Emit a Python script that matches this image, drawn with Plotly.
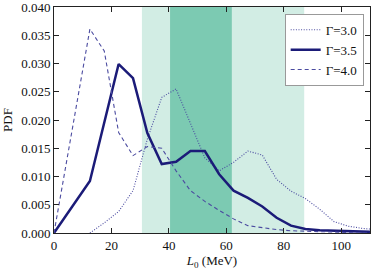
import plotly.graph_objects as go

# ---- data ----
L_g30 = [12.5, 17.5, 22.5, 27.5, 32.5, 37.5, 42.5, 47.5, 52.5, 57.5, 62.5, 67.5,
         72.5, 77.5, 82.5, 87.5, 92.5, 97.5, 102.5, 107.5, 110]
pdf_g30 = [0.0, 0.0018, 0.0038, 0.0075, 0.0166, 0.0240, 0.0255, 0.0195, 0.0133, 0.0110,
           0.0125, 0.0145, 0.0138, 0.0095, 0.0074, 0.0061, 0.0042, 0.0020, 0.0012, 0.0008, 0.0007]

L_g35 = [0, 12.5, 22.5, 27.5, 32.5, 37.5, 42.5, 47.5, 52.5, 57.5, 62.5, 67.5, 72.5,
         77.5, 82.5, 87.5, 92.5, 97.5, 102.5, 107.5, 110]
pdf_g35 = [0.0, 0.0092, 0.0299, 0.0274, 0.0177, 0.0122, 0.0126, 0.0145, 0.0145, 0.0104,
           0.0075, 0.0062, 0.0047, 0.0027, 0.0013, 0.0007, 0.0005, 0.0004, 0.0003, 0.0002, 0.0002]

L_g40 = [0, 12.5, 17.5, 22.5, 27.5, 32.5, 37.5, 42.5, 47.5, 52.5, 57.5, 62.5, 67.5,
         72.5, 77.5, 82.5, 87.5, 92.5, 97.5, 102.5, 107.5, 110]
pdf_g40 = [0.0, 0.0361, 0.0322, 0.0178, 0.0137, 0.0153, 0.0150, 0.0110, 0.0075, 0.0056,
           0.0040, 0.0025, 0.0013, 0.0009, 0.0006, 0.0004, 0.0003, 0.0002, 0.0001, 0.0001, 0.0, 0.0]

light_band = [30.6, 87.1]
dark_band = [40.4, 61.9]

x_ticks = [0, 20, 40, 60, 80, 100]
y_ticks = [0.000, 0.005, 0.010, 0.015, 0.020, 0.025, 0.030, 0.035, 0.040]
y_labels = ["0.000", "0.005", "0.010", "0.015", "0.020", "0.025", "0.030", "0.035", "0.040"]

FONT = "Liberation Serif"

fig = go.Figure()
fig.add_trace(go.Scatter(x=L_g30, y=pdf_g30, mode="lines", name="Γ=3.0",
                         line=dict(color="#4b4ba0", width=1.1, dash="1px,1.6px")))
fig.add_trace(go.Scatter(x=L_g35, y=pdf_g35, mode="lines", name="Γ=3.5",
                         line=dict(color="#1b1b78", width=2.5)))
fig.add_trace(go.Scatter(x=L_g40, y=pdf_g40, mode="lines", name="Γ=4.0",
                         line=dict(color="#4b4ba0", width=1.1, dash="4px,3px")))

fig.add_shape(type="rect", xref="x", yref="paper", x0=light_band[0], x1=light_band[1],
              y0=0, y1=1, fillcolor="#d2ede4", line_width=0, layer="below")
fig.add_shape(type="rect", xref="x", yref="paper", x0=dark_band[0], x1=dark_band[1],
              y0=0, y1=1, fillcolor="#7ccab2", line_width=0, layer="below")

axis_common = dict(showline=True, linecolor="#222", linewidth=1, mirror="ticks",
                   ticks="inside", ticklen=5, tickcolor="#222", showgrid=False,
                   zeroline=False, automargin=False, ticklabeloverflow="allow",
                   tickfont=dict(family=FONT, size=13, color="#111"))

fig.update_xaxes(range=[0, 110], tickvals=x_ticks,
                 title=dict(text="<i>L</i><sub>0</sub> (MeV)", font=dict(family=FONT, size=13, color="#111")),
                 **axis_common)
fig.update_yaxes(range=[0, 0.0400001], tickvals=y_ticks, ticktext=y_labels,
                 title=dict(text="PDF", font=dict(family=FONT, size=13, color="#111")),
                 **axis_common)

fig.update_layout(
    width=374, height=270,
    margin=dict(l=54, r=4, t=7, b=37, autoexpand=False),
    plot_bgcolor="white", paper_bgcolor="white",
    font=dict(family=FONT, size=13, color="#111"),
    legend=dict(x=0.98, y=0.97, xanchor="right", yanchor="top",
                bgcolor="white", bordercolor="#999", borderwidth=1,
                font=dict(family=FONT, size=13), tracegroupgap=0,
                itemwidth=30),
    showlegend=True,
)

fig.write_html("out.html", config={"displayModeBar": False},
               post_script="document.body.style.margin='0';document.body.style.overflow='hidden';")
